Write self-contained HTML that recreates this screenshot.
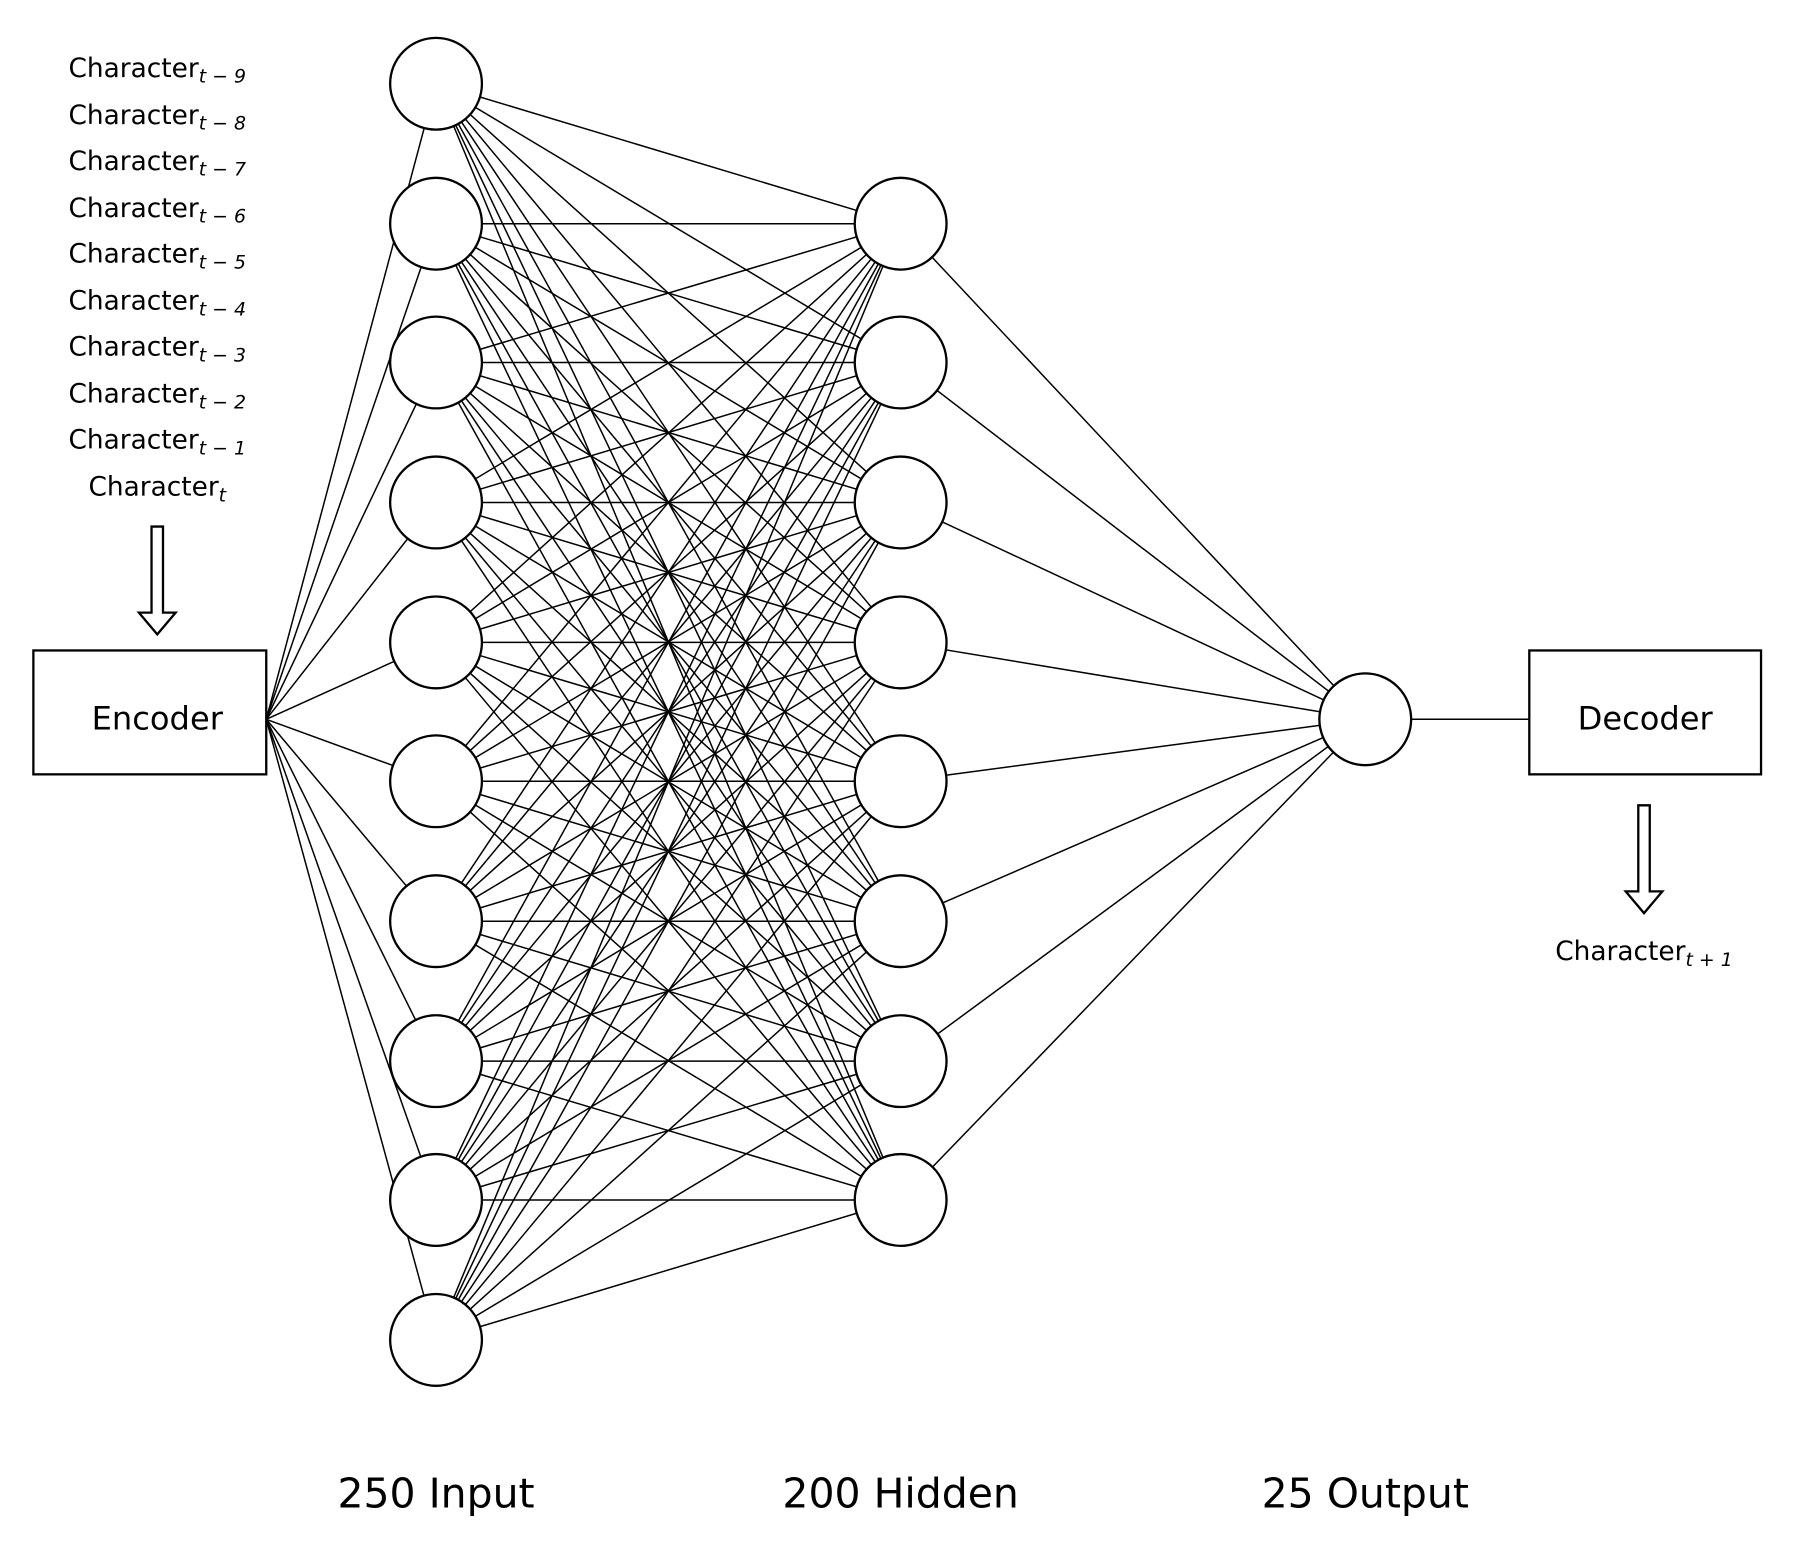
<!DOCTYPE html>
<html><head><meta charset="utf-8"><style>
html,body{margin:0;padding:0;background:#fff;}
svg{display:block;}
text{font-family:"DejaVu Sans","Liberation Sans",sans-serif;fill:#000;}
</style></head><body>
<svg id="s" width="1799" height="1551" viewBox="0 0 1568 1352" xmlns="http://www.w3.org/2000/svg">
<g id="lines" stroke="#000" stroke-width="1.3"></g>
<g id="nodes" stroke="#000" stroke-width="2" fill="#fff"></g>
<rect x="29" y="567" width="203" height="108" fill="none" stroke="#000" stroke-width="2"/>
<text x="137" y="636" font-size="28" text-anchor="middle">Encoder</text>
<rect x="1333" y="567" width="202" height="108" fill="none" stroke="#000" stroke-width="2"/>
<text x="1434" y="636" font-size="28" text-anchor="middle">Decoder</text>
<path d="M132,459 L142,459 L142,534 L153,534 L137,553 L121,534 L132,534 Z" fill="#fff" stroke="#000" stroke-width="2"/>
<path d="M1428,702 L1438,702 L1438,777 L1449,777 L1433,796 L1417,777 L1428,777 Z" fill="#fff" stroke="#000" stroke-width="2"/>
<g font-size="23" text-anchor="middle">
<text x="137" y="67">Character<tspan font-size="16.5" font-style="italic" dy="5">t − 9</tspan></text>
<text x="137" y="108">Character<tspan font-size="16.5" font-style="italic" dy="5">t − 8</tspan></text>
<text x="137" y="148">Character<tspan font-size="16.5" font-style="italic" dy="5">t − 7</tspan></text>
<text x="137" y="189">Character<tspan font-size="16.5" font-style="italic" dy="5">t − 6</tspan></text>
<text x="137" y="229">Character<tspan font-size="16.5" font-style="italic" dy="5">t − 5</tspan></text>
<text x="137" y="270">Character<tspan font-size="16.5" font-style="italic" dy="5">t − 4</tspan></text>
<text x="137" y="310">Character<tspan font-size="16.5" font-style="italic" dy="5">t − 3</tspan></text>
<text x="137" y="351">Character<tspan font-size="16.5" font-style="italic" dy="5">t − 2</tspan></text>
<text x="137" y="391">Character<tspan font-size="16.5" font-style="italic" dy="5">t − 1</tspan></text>
<text x="137" y="432">Character<tspan font-size="16.5" font-style="italic" dy="5">t</tspan></text>
<text x="1433" y="837">Character<tspan font-size="16.5" font-style="italic" dy="5">t + 1</tspan></text>
</g>
<g font-size="35.7" text-anchor="middle">
<text x="380" y="1314">250 Input</text>
<text x="785" y="1314">200 Hidden</text>
<text x="1190" y="1314">25 Output</text>
</g>
</svg>
<script>
var NS="http://www.w3.org/2000/svg";
var L=document.getElementById("lines"),N=document.getElementById("nodes");
function line(a,b,c,d){var e=document.createElementNS(NS,"line");e.setAttribute("x1",a);e.setAttribute("y1",b);e.setAttribute("x2",c);e.setAttribute("y2",d);L.appendChild(e);}
function circ(x,y){var e=document.createElementNS(NS,"circle");e.setAttribute("cx",x);e.setAttribute("cy",y);e.setAttribute("r",40);N.appendChild(e);}
var inY=[73,195,316,438,560,681,803,925,1046,1168];
var hY=[195,316,438,560,681,803,925,1046];
inY.forEach(function(y){line(232,627,380,y);hY.forEach(function(h){line(380,y,785,h);});});
hY.forEach(function(h){line(785,h,1190,627);});
line(1190,627,1333,627);
inY.forEach(function(y){circ(380,y);});
hY.forEach(function(y){circ(785,y);});
circ(1190,627);
</script>
</body></html>
